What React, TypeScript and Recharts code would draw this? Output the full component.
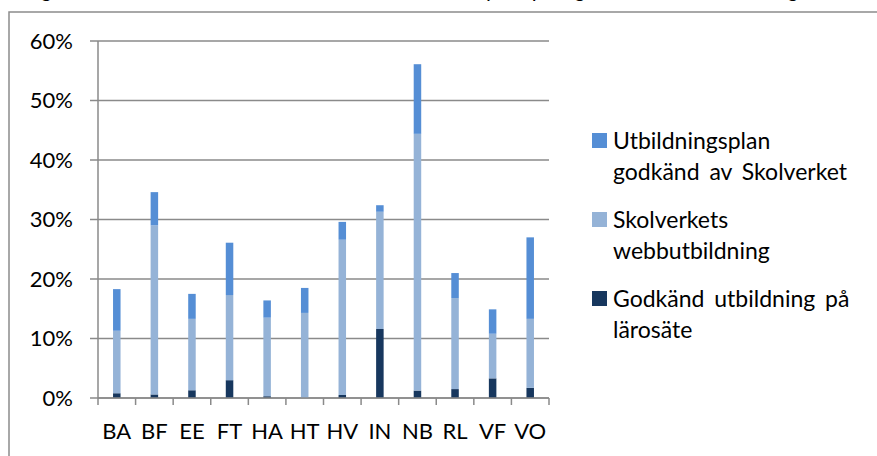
import React from "react";
import { BarChart, Bar, XAxis, YAxis, CartesianGrid } from "recharts";

const categories = ["BA", "BF", "EE", "FT", "HA", "HT", "HV", "IN", "NB", "RL", "VF", "VO"];
const godkandLarosate = [0.8, 0.6, 1.3, 3.0, 0.3, 0, 0.5, 11.6, 1.25, 1.5, 3.3, 1.7];
const skolverketsWebb = [10.5, 28.4, 12.0, 14.3, 13.2, 14.3, 26.1, 19.7, 43.15, 15.3, 7.5, 11.6];
const planGodkand = [7.0, 5.6, 4.2, 8.8, 2.9, 4.2, 3.0, 1.1, 11.7, 4.2, 4.1, 13.7];
const yTicks = [0, 10, 20, 30, 40, 50, 60];

const seriesNames = {
  plan: "Utbildningsplan godkänd av Skolverket",
  webb: "Skolverkets webbutbildning",
  laro: "Godkänd utbildning på lärosäte",
};

const colors = { plan: "#558ED5", webb: "#95B3D7", laro: "#17375E" };

const data = categories.map((c, i) => ({
  cat: c,
  laro: godkandLarosate[i],
  webb: skolverketsWebb[i],
  plan: planGodkand[i],
}));

const captionWords = [
  { t: "Figur 3. Andel handledare efter område och", x: 26 },
  { t: "yrke", x: 486 },
  { t: "på", x: 533 },
  { t: "grund", x: 576 },
  { t: "av", x: 650 },
  { t: "utbildning", x: 708 },
];

const FONT = "Lato, 'Open Sans', sans-serif";
const W = 877;
const H = 456;
const M = { top: 41, right: 328, bottom: 0, left: 0 };
const Y_W = 98;
const X_H = 58;
const plotW = W - M.left - M.right - Y_W;
const GRID = "#8a8a8a";

const CatTick = (props: any) => {
  const { x, y, payload, index } = props;
  const half = plotW / categories.length / 2;
  return (
    <g>
      <line x1={x - half} x2={x - half} y1={y} y2={y + 7} stroke={GRID} strokeWidth={1.5} />
      {index === categories.length - 1 && (
        <line x1={x + half} x2={x + half} y1={y} y2={y + 7} stroke={GRID} strokeWidth={1.5} />
      )}
      <text x={x} y={y + 41} textAnchor="middle" fontFamily={FONT} fontSize={22} fill="#000">
        {payload.value}
      </text>
    </g>
  );
};

const legendLines = [
  { key: "plan", lines: ["Utbildningsplan", "godkänd av Skolverket"] },
  { key: "webb", lines: ["Skolverkets", "webbutbildning"] },
  { key: "laro", lines: ["Godkänd utbildning på", "lärosäte"] },
];

const LegendContent = () => (
  <div style={{ fontFamily: FONT, fontSize: 23, color: "#000", lineHeight: "31px", wordSpacing: "4px" }}>
    {legendLines.map((l) => (
      <div key={l.key} style={{ display: "flex", alignItems: "flex-start", marginBottom: 17 }}>
        <div
          style={{
            width: 15,
            height: 15,
            background: (colors as any)[l.key],
            marginTop: 8,
            marginRight: 6,
            flex: "none",
          }}
        />
        <div>
          {l.lines.map((t, j) => (
            <div key={j} style={{ whiteSpace: "nowrap" }}>{t}</div>
          ))}
        </div>
      </div>
    ))}
  </div>
);

export default function App() {
  return (
    <div style={{ position: "absolute", left: 0, top: 0, width: W, height: H, background: "#fff", overflow: "hidden" }}>
      <svg width={W} height={H} style={{ position: "absolute", left: 0, top: 0 }}>
        <text y={-3} fontFamily={FONT} fontSize={22} fontStyle="italic" fill="#000">
          {captionWords.map((w, i) => (
            <tspan key={i} x={w.x}>{w.t}</tspan>
          ))}
        </text>
        <rect x={9} y={12} width={W} height={H} fill="none" stroke="#8c8c8c" strokeWidth={1.5} />
      </svg>
      <div style={{ position: "absolute", left: 0, top: 0 }}>
        <BarChart width={W} height={H} data={data} margin={M} barCategoryGap="60%">
          <CartesianGrid horizontal vertical={false} stroke={GRID} strokeWidth={1.5} />
          <XAxis
            dataKey="cat"
            height={X_H}
            tickLine={false}
            tickSize={0}
            tickMargin={0}
            axisLine={{ stroke: GRID, strokeWidth: 1.5 }}
            tick={<CatTick />}
            interval={0}
          />
          <YAxis
            width={Y_W}
            domain={[0, 60]}
            ticks={yTicks}
            tickFormatter={(v: number) => `${v}%`}
            tickSize={8}
            tickMargin={17}
            tickLine={{ stroke: GRID, strokeWidth: 1.5 }}
            axisLine={{ stroke: GRID, strokeWidth: 1.5 }}
            tick={{ fontFamily: FONT, fontSize: 22, fill: "#000" }}
            interval={0}
          />
          <Bar dataKey="laro" name={seriesNames.laro} stackId="s" fill={colors.laro} isAnimationActive={false} />
          <Bar dataKey="webb" name={seriesNames.webb} stackId="s" fill={colors.webb} isAnimationActive={false} />
          <Bar dataKey="plan" name={seriesNames.plan} stackId="s" fill={colors.plan} isAnimationActive={false} />
        </BarChart>
      </div>
      <div style={{ position: "absolute", left: 592, top: 125 }}>
        <LegendContent />
      </div>
    </div>
  );
}
